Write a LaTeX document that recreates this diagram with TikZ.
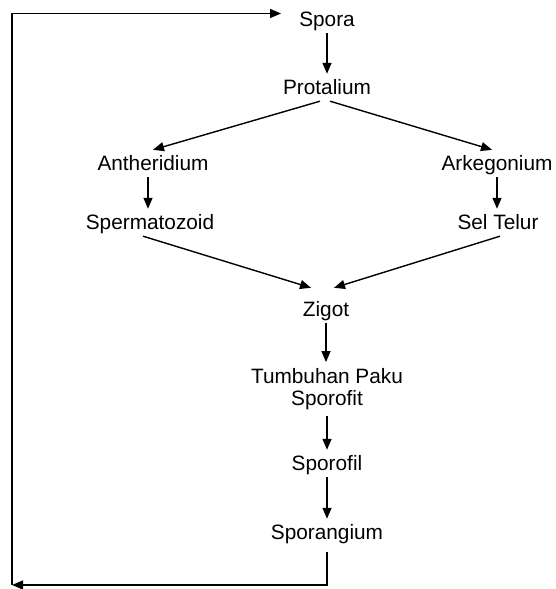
\documentclass[tikz,border=0pt]{standalone}
\usepackage{fontspec}
\setmainfont{Liberation Sans}
\usetikzlibrary{arrows.meta}
\tikzset{
  lbl/.style={font=\fontsize{20.8}{22}\selectfont, text height=15pt, text depth=0pt, inner xsep=6pt, inner ysep=6pt},
  lbltwo/.style={font=\fontsize{20.8}{22}\selectfont, align=center, inner xsep=6pt, inner ysep=6pt},
  arr/.style={draw=black, line width=1.4pt, -{Triangle[length=11pt,width=9pt]}},
}
\begin{document}
\begin{tikzpicture}[x=1pt,y=1pt]
\useasboundingbox (0,0) rectangle (556,589);
\node[lbl] (spora) at (327,569.5) {Spora};
\node[lbl] (protalium) at (327,501.5) {Protalium};
\node[lbl] (antheridium) at (153,425.5) {Antheridium};
\node[lbl] (arkegonium) at (497,425.5) {Arkegonium};
\node[lbl] (spermatozoid) at (150,366.5) {Spermatozoid};
\node[lbl] (seltelur) at (498,366.5) {Sel Telur};
\node[lbl] (zigot) at (326,279.5) {Zigot};
\node[lbltwo] (tumbuhan) at (327,200) {Tumbuhan Paku\\Sporofit};
\node[lbl] (sporofil) at (327,125.5) {Sporofil};
\node[lbl] (sporangium) at (327,56.5) {Sporangium};
\coordinate (bl) at (12,4);
\coordinate (sporain) at ([xshift=-12pt,yshift=6pt]spora.west);

\draw[arr] (spora.south) -- (protalium.north);
\draw[arr] ([xshift=-7pt]protalium.south) -- (antheridium.north);
\draw[arr] ([xshift=3pt]protalium.south) -- ([xshift=-5pt]arkegonium.north);
\draw[arr] ([xshift=-5pt]antheridium.south) -- ([xshift=-2pt]spermatozoid.north);
\draw[arr] (arkegonium.south) -- (arkegonium.south |- seltelur.north);
\draw[arr] ([xshift=-7pt]spermatozoid.south) -- ([xshift=-15pt,yshift=8pt]zigot.north);
\draw[arr] ([xshift=2pt]seltelur.south) -- ([xshift=8pt,yshift=8pt]zigot.north);
\draw[arr] (zigot.south) -- (zigot.south |- tumbuhan.north);
\draw[arr] (tumbuhan.south) -- (sporofil.north);
\draw[arr] (sporofil.south) -- (sporangium.north);
\draw[arr] ([yshift=-6pt]sporangium.south) |- (bl);
\draw[arr, line join=miter] (bl) |- (sporain);
\end{tikzpicture}
\end{document}
